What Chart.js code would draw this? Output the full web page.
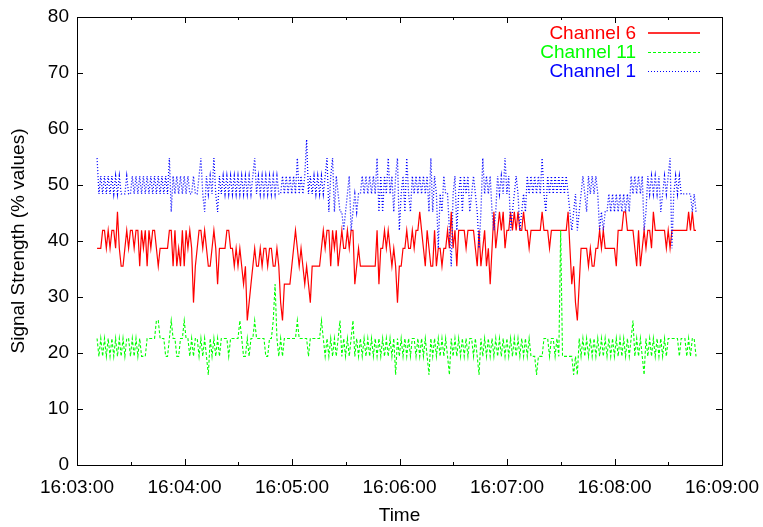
<!DOCTYPE html>
<html>
<head>
<meta charset="utf-8">
<script src="https://cdn.jsdelivr.net/npm/chart.js@4/dist/chart.umd.min.js"></script>
<style>
  html, body { margin: 0; padding: 0; background: #fff; }
  #wrap { width: 763px; height: 527px; }
</style>
</head>
<body>
<div id="wrap"><canvas id="c" width="763" height="527"></canvas></div>
<script>
// Time axis labels, one per minute of the capture
const timeLabels = ['16:03:00', '16:04:00', '16:05:00', '16:06:00', '16:07:00', '16:08:00', '16:09:00'];

// Scan timing (seconds after 16:03:00)
const sampleStart = 11.2;
const sampleInterval = 1.035;

// Signal strength readings (% values), one row of 27 scans per line
const channel6 = [
  38.7,38.7,38.7,41.9,41.9,38.7,41.9,38.7,41.9,41.9,38.7,45.2,38.7,35.5,35.5,38.7,41.9,38.7,41.9,41.9,38.7,41.9,41.9,35.5,41.9,38.7,41.9,
  35.5,41.9,38.7,41.9,41.9,38.7,35.5,38.7,38.7,38.7,38.7,38.7,41.9,41.9,35.5,41.9,35.5,38.7,35.5,41.9,35.5,41.9,38.7,41.9,38.7,29.0,35.5,
  38.7,41.9,41.9,38.7,41.9,38.7,35.5,35.5,38.7,41.9,38.7,32.3,38.7,38.7,38.7,38.7,41.9,41.9,38.7,38.7,35.5,38.7,35.5,38.7,35.5,32.3,35.5,
  25.8,29.0,32.3,35.5,38.7,35.5,35.5,38.7,35.5,38.7,38.7,35.5,38.7,38.7,35.5,35.5,38.7,35.5,29.0,25.8,32.3,32.3,32.3,32.3,35.5,38.7,41.9,
  38.7,35.5,38.7,35.5,32.3,35.5,32.3,29.0,35.5,35.5,35.5,35.5,35.5,38.7,41.9,38.7,41.9,41.9,35.5,41.9,38.7,41.9,35.5,38.7,41.9,38.7,38.7,
  41.9,38.7,41.9,41.9,32.3,35.5,38.7,35.5,35.5,35.5,35.5,35.5,35.5,35.5,35.5,35.5,41.9,32.3,38.7,38.7,41.9,38.7,41.9,38.7,35.5,38.7,35.5,
  29.0,35.5,35.5,38.7,38.7,41.9,38.7,38.7,41.9,38.7,41.9,41.9,45.2,41.9,38.7,35.5,41.9,38.7,35.5,35.5,41.9,35.5,38.7,38.7,35.5,38.7,38.7,
  41.9,38.7,45.2,38.7,41.9,35.5,41.9,41.9,41.9,41.9,38.7,41.9,41.9,41.9,41.9,38.7,35.5,41.9,35.5,38.7,41.9,35.5,38.7,32.3,38.7,45.2,38.7,
  41.9,45.2,41.9,45.2,38.7,41.9,41.9,45.2,41.9,45.2,41.9,45.2,41.9,41.9,45.2,41.9,41.9,38.7,41.9,41.9,41.9,41.9,41.9,41.9,45.2,41.9,41.9,
  41.9,38.7,41.9,41.9,41.9,41.9,41.9,41.9,41.9,41.9,41.9,45.2,38.7,32.3,35.5,29.0,25.8,32.3,38.7,38.7,38.7,38.7,35.5,38.7,35.5,35.5,38.7,
  38.7,41.9,38.7,41.9,38.7,38.7,38.7,38.7,38.7,38.7,35.5,41.9,41.9,41.9,45.2,45.2,41.9,41.9,41.9,41.9,38.7,35.5,41.9,35.5,38.7,41.9,38.7,
  41.9,41.9,38.7,45.2,41.9,41.9,41.9,41.9,41.9,41.9,38.7,41.9,38.7,41.9,41.9,41.9,41.9,41.9,41.9,41.9,41.9,41.9,45.2,41.9,45.2,41.9,41.9
];

const channel11 = [
  22.6,19.4,22.6,19.4,22.6,19.4,22.6,19.4,22.6,19.4,22.6,19.4,22.6,19.4,22.6,19.4,22.6,22.6,19.4,22.6,19.4,22.6,19.4,22.6,19.4,19.4,19.4,
  22.6,22.6,22.6,22.6,22.6,25.8,25.8,22.6,22.6,22.6,19.4,19.4,22.6,25.8,22.6,22.6,19.4,19.4,22.6,22.6,25.8,22.6,22.6,19.4,22.6,19.4,22.6,
  22.6,19.4,22.6,19.4,22.6,19.4,16.1,22.6,19.4,22.6,19.4,22.6,19.4,22.6,22.6,22.6,22.6,19.4,22.6,22.6,22.6,22.6,22.6,25.8,22.6,19.4,19.4,
  22.6,19.4,22.6,22.6,25.8,22.6,22.6,22.6,22.6,22.6,19.4,19.4,22.6,22.6,25.8,32.3,22.6,19.4,22.6,19.4,22.6,22.6,22.6,22.6,22.6,22.6,22.6,
  25.8,22.6,22.6,22.6,22.6,22.6,19.4,22.6,22.6,22.6,22.6,22.6,22.6,25.8,22.6,19.4,22.6,19.4,22.6,19.4,22.6,19.4,22.6,25.8,19.4,22.6,19.4,
  22.6,19.4,22.6,25.8,19.4,22.6,19.4,22.6,19.4,22.6,19.4,22.6,19.4,22.6,19.4,22.6,19.4,22.6,19.4,22.6,19.4,22.6,19.4,22.6,19.4,22.6,16.1,
  22.6,19.4,22.6,19.4,22.6,19.4,22.6,19.4,22.6,22.6,19.4,22.6,19.4,22.6,19.4,22.6,19.4,16.1,22.6,19.4,22.6,19.4,22.6,19.4,22.6,19.4,22.6,
  19.4,16.1,22.6,19.4,22.6,19.4,22.6,19.4,22.6,19.4,22.6,19.4,22.6,22.6,19.4,22.6,19.4,16.1,22.6,19.4,22.6,19.4,22.6,19.4,22.6,19.4,22.6,
  19.4,22.6,19.4,22.6,19.4,22.6,19.4,22.6,19.4,22.6,19.4,22.6,19.4,22.6,19.4,22.6,19.4,22.6,19.4,19.4,19.4,16.1,19.4,19.4,19.4,22.6,22.6,
  22.6,19.4,22.6,22.6,19.4,22.6,19.4,41.9,19.4,19.4,19.4,19.4,19.4,19.4,16.1,19.4,16.1,22.6,19.4,22.6,19.4,22.6,19.4,22.6,19.4,22.6,19.4,
  22.6,19.4,22.6,19.4,22.6,19.4,22.6,19.4,22.6,19.4,22.6,19.4,22.6,19.4,22.6,19.4,22.6,19.4,22.6,25.8,19.4,22.6,19.4,22.6,19.4,16.1,22.6,
  19.4,22.6,19.4,22.6,19.4,22.6,19.4,22.6,19.4,22.6,19.4,22.6,22.6,22.6,22.6,22.6,22.6,19.4,22.6,22.6,22.6,19.4,22.6,19.4,22.6,22.6,19.4
];

const channel1 = [
  54.8,48.4,51.6,48.4,51.6,48.4,51.6,48.4,51.6,48.4,51.6,48.4,51.6,48.4,48.4,48.4,51.6,48.4,48.4,51.6,48.4,51.6,48.4,51.6,48.4,51.6,48.4,
  51.6,48.4,51.6,48.4,51.6,48.4,51.6,48.4,51.6,48.4,51.6,48.4,54.8,45.2,51.6,48.4,51.6,48.4,51.6,48.4,51.6,48.4,51.6,48.4,48.4,51.6,48.4,
  48.4,51.6,54.8,48.4,45.2,51.6,48.4,51.6,48.4,54.8,48.4,45.2,51.6,48.4,51.6,48.4,51.6,48.4,51.6,48.4,51.6,48.4,51.6,48.4,51.6,48.4,51.6,
  48.4,51.6,48.4,51.6,54.8,48.4,51.6,48.4,51.6,48.4,51.6,48.4,51.6,48.4,51.6,48.4,51.6,48.4,48.4,51.6,48.4,51.6,48.4,51.6,48.4,51.6,48.4,
  54.8,48.4,51.6,48.4,51.6,58.1,48.4,51.6,48.4,51.6,48.4,51.6,48.4,51.6,48.4,51.6,54.8,45.2,51.6,54.8,45.2,51.6,48.4,45.2,45.2,41.9,45.2,
  48.4,51.6,41.9,45.2,48.4,45.2,48.4,48.4,51.6,48.4,51.6,48.4,51.6,48.4,51.6,48.4,54.8,45.2,51.6,45.2,51.6,48.4,54.8,48.4,51.6,45.2,51.6,
  54.8,41.9,48.4,51.6,45.2,54.8,48.4,45.2,51.6,48.4,51.6,48.4,51.6,48.4,51.6,48.4,51.6,45.2,54.8,45.2,51.6,48.4,38.7,48.4,45.2,51.6,48.4,
  48.4,41.9,35.5,48.4,51.6,41.9,48.4,51.6,45.2,51.6,48.4,51.6,45.2,48.4,51.6,48.4,45.2,38.7,45.2,54.8,48.4,51.6,48.4,51.6,45.2,41.9,45.2,
  51.6,48.4,51.6,48.4,54.8,48.4,51.6,41.9,45.2,48.4,51.6,48.4,41.9,45.2,48.4,45.2,51.6,48.4,51.6,48.4,51.6,48.4,51.6,48.4,54.8,48.4,45.2,
  51.6,48.4,51.6,48.4,51.6,48.4,51.6,48.4,51.6,48.4,51.6,48.4,45.2,41.9,45.2,48.4,41.9,45.2,48.4,51.6,48.4,45.2,51.6,48.4,51.6,48.4,51.6,
  48.4,41.9,45.2,41.9,45.2,45.2,48.4,45.2,48.4,45.2,48.4,45.2,48.4,45.2,48.4,45.2,48.4,45.2,51.6,48.4,51.6,48.4,51.6,48.4,51.6,41.9,45.2,
  51.6,48.4,51.6,48.4,51.6,48.4,51.6,45.2,48.4,51.6,48.4,51.6,54.8,38.7,48.4,51.6,48.4,51.6,48.4,48.4,48.4,48.4,48.4,48.4,45.2,48.4,45.2
];

// Series names and styles, in key order
const seriesNames = ['Channel 6', 'Channel 11', 'Channel 1'];
const seriesColors = ['#ff0000', '#00ff00', '#0000ff'];
const seriesDashes = [[], [3, 2], [1, 2]];

// Pair each reading with its scan time
function toPoints(values) {
  return values.map((v, i) => ({ x: sampleStart + i * sampleInterval, y: v }));
}

const FONT = "'Liberation Sans', Arial, sans-serif";
Chart.defaults.font.family = FONT;
Chart.defaults.font.size = 19;
Chart.defaults.color = '#000';

// Frame with inward tick marks on all four sides
const framePlugin = {
  id: 'frame',
  afterDatasetsDraw(chart) {
    const { ctx, chartArea: a, scales: { x, y } } = chart;
    ctx.save();
    ctx.strokeStyle = '#000';
    ctx.lineWidth = 1;
    ctx.setLineDash([]);
    ctx.beginPath();
    x.ticks.forEach(t => {
      const px = Math.round(x.getPixelForValue(t.value)) + 0.5;
      const len = t.value % 60 === 0 ? 6 : 3;
      ctx.moveTo(px, a.bottom); ctx.lineTo(px, a.bottom - len);
      ctx.moveTo(px, a.top); ctx.lineTo(px, a.top + len);
    });
    y.ticks.forEach(t => {
      const py = Math.round(y.getPixelForValue(t.value)) + 0.5;
      ctx.moveTo(a.left, py); ctx.lineTo(a.left + 6, py);
      ctx.moveTo(a.right, py); ctx.lineTo(a.right - 6, py);
    });
    ctx.stroke();
    ctx.strokeRect(Math.round(a.left) + 0.5, Math.round(a.top) + 0.5,
                   Math.round(a.right - a.left), Math.round(a.bottom - a.top));
    ctx.restore();
  }
};

// Key in the top-right corner: coloured label, then a sample of the line
const keyPlugin = {
  id: 'key',
  afterDraw(chart) {
    const { ctx } = chart;
    const textRight = 636, lineStart = 648, lineEnd = 700, firstRow = 33, rowGap = 19;
    ctx.save();
    ctx.setLineDash([]);
    ctx.font = '19px ' + FONT;
    ctx.textAlign = 'right';
    ctx.textBaseline = 'middle';
    seriesNames.forEach((name, i) => {
      const yy = Math.round(firstRow + i * rowGap);
      ctx.fillStyle = seriesColors[i];
      ctx.fillText(name, textRight, yy + 1);
      // line sample built from filled segments following the dash pattern
      const dash = seriesDashes[i];
      if (dash.length === 0) {
        ctx.globalAlpha = 0.8;
        ctx.fillRect(lineStart, yy - 1, lineEnd - lineStart, 2);
        ctx.globalAlpha = 1;
      } else {
        for (let px = lineStart; px < lineEnd; px += dash[0] + dash[1]) {
          ctx.fillRect(px, yy, Math.min(dash[0], lineEnd - px), 1);
        }
      }
    });
    ctx.restore();
  }
};

const seriesValues = [channel6, channel11, channel1];

new Chart(document.getElementById('c'), {
  type: 'line',
  data: {
    datasets: seriesValues.map((vals, i) => ({
      label: seriesNames[i],
      data: toPoints(vals),
      borderColor: seriesColors[i],
      borderWidth: i === 0 ? 1.2 : (i === 2 ? 1.3 : 1.1),
      borderDash: seriesDashes[i],
      order: 3 - i
    }))
  },
  options: {
    responsive: false,
    animation: false,
    devicePixelRatio: 1,
    layout: { padding: { top: 17, right: 41, left: 0, bottom: 0 } },
    elements: { point: { radius: 0 }, line: { tension: 0, fill: false } },
    plugins: { legend: { display: false }, tooltip: { enabled: false } },
    scales: {
      x: {
        type: 'linear', min: 0, max: 360,
        grid: { display: false, drawTicks: false },
        border: { display: false },
        ticks: {
          stepSize: 30, autoSkip: false, maxRotation: 0, padding: 11,
          callback: v => (v % 60 === 0 ? timeLabels[v / 60] : '')
        },
        title: { display: true, text: 'Time', padding: { top: 0, bottom: 0 } },
        afterFit: s => { s.height = 62; s.paddingLeft = 0; s.paddingRight = 0; }
      },
      y: {
        min: 0, max: 80,
        grid: { display: false, drawTicks: false },
        border: { display: false },
        ticks: { stepSize: 10, padding: 8 },
        title: { display: true, text: 'Signal Strength (% values)', padding: { top: 7, bottom: 0 } },
        afterFit: s => { s.width = 77; s.paddingTop = 0; s.paddingBottom = 0; }
      }
    }
  },
  plugins: [framePlugin, keyPlugin]
});
</script>
</body>
</html>
